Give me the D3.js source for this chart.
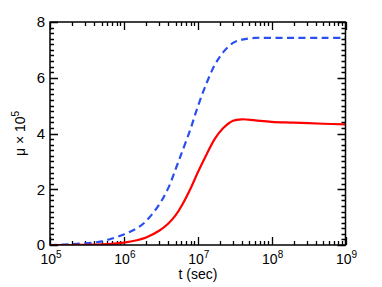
<!DOCTYPE html>
<html>
<head>
<meta charset="utf-8">
<script src="https://cdn.jsdelivr.net/npm/d3@7"></script>
<style>
  body { margin: 0; background: #fff; }
  text { font-family: "Liberation Sans", Arial, sans-serif; fill: #000; }
</style>
</head>
<body>
<div id="chart"></div>
<script>
// time in seconds (log axis)
const tSec = [1e5, 2e5, 5e5, 1e6, 1.5e6, 2e6, 3e6, 4e6, 5e6, 6e6, 8e6, 1e7,
              1.3e7, 1.7e7, 2.2e7, 3e7, 4e7, 6e7, 1e8, 2e8, 5e8, 1e9];
// mu x 1e5, solid red curve
const muSolid = [0, 0, 0.02, 0.085, 0.17, 0.27, 0.51, 0.77, 1.06, 1.39, 2.03, 2.6,
                 3.22, 3.81, 4.19, 4.46, 4.51, 4.47, 4.42, 4.39, 4.35, 4.33];
// mu x 1e5, dashed blue curve
const muDashed = [0, 0.03, 0.13, 0.38, 0.6, 0.86, 1.45, 2.05, 2.71, 3.27, 4.17, 4.96,
                  5.77, 6.46, 6.91, 7.25, 7.37, 7.43, 7.43, 7.43, 7.43, 7.43];
const xExponents = [5, 6, 7, 8, 9];
const yTicks = [0, 2, 4, 6, 8];

const width = 382, height = 287;
const x0 = 50, x1 = 345.5, y0 = 245, y1 = 22;

const svg = d3.select("#chart").append("svg")
    .attr("width", width)
    .attr("height", height);

const x = d3.scaleLog().domain([1e5, 1e9]).range([x0, x1]);
const y = d3.scaleLinear().domain([0, 8]).range([y0, y1]);

const majorX = xExponents.map(e => Math.pow(10, e));
const minorX = [];
xExponents.slice(0, -1).forEach(e => {
    for (let k = 2; k < 10; k++) minorX.push(k * Math.pow(10, e));
});
const minorY = d3.range(1, 40).map(i => i * 0.2).filter((v, i) => (i + 1) % 10 != 0);

// ticks, all pointing inward, drawn as one path per set
function tickPath(vals, len, horiz) {
    let p = d3.path();
    vals.forEach(v => {
        if (horiz) {
            const xx = Math.round(x(v)) + 0.5;
            p.moveTo(xx, y0); p.lineTo(xx, y0 - len);
            p.moveTo(xx, y1); p.lineTo(xx, y1 + len);
        } else {
            const yy = Math.round(y(v)) + 0.5;
            p.moveTo(x0, yy); p.lineTo(x0 + len, yy);
            p.moveTo(x1, yy); p.lineTo(x1 - len, yy);
        }
    });
    svg.append("path")
        .attr("d", p.toString())
        .attr("fill", "none")
        .attr("stroke", "#000")
        .attr("stroke-width", 1.3);
}
tickPath(majorX, 8, true);
tickPath(minorX, 4, true);
tickPath(yTicks, 8, false);
tickPath(minorY, 4, false);

// curves
svg.append("clipPath").attr("id", "clip")
    .append("rect").attr("x", x0).attr("y", y1).attr("width", x1 - x0).attr("height", y0 - y1);

const line = vals => d3.line()
    .x((d, i) => x(tSec[i]))
    .y(d => y(d))
    .curve(d3.curveCatmullRom.alpha(0.5))(vals);

svg.append("path")
    .attr("clip-path", "url(#clip)")
    .attr("d", line(muDashed))
    .attr("fill", "none")
    .attr("stroke", "#2a4ff0")
    .attr("stroke-width", 2.2)
    .attr("stroke-dasharray", "7,4.5");

svg.append("path")
    .attr("clip-path", "url(#clip)")
    .attr("d", line(muSolid))
    .attr("fill", "none")
    .attr("stroke", "#ff0000")
    .attr("stroke-width", 2.2);

// frame
svg.append("rect")
    .attr("x", x0).attr("y", y1)
    .attr("width", x1 - x0).attr("height", y0 - y1)
    .attr("fill", "none")
    .attr("stroke", "#000")
    .attr("stroke-width", 1.5);

// tick labels
svg.append("g").selectAll("text")
    .data(yTicks)
    .join("text")
    .attr("x", x0 - 5)
    .attr("y", d => y(d))
    .attr("dy", "0.36em")
    .attr("text-anchor", "end")
    .attr("font-size", 15)
    .text(d => d);

const xl = svg.append("g").selectAll("text")
    .data(xExponents)
    .join("text")
    .attr("x", d => x(Math.pow(10, d)) + 1)
    .attr("y", 264)
    .attr("text-anchor", "middle")
    .attr("font-size", 14);
xl.append("tspan").text("10");
xl.append("tspan").attr("dy", -6).attr("font-size", 10).text(d => d);

// axis titles
svg.append("text")
    .attr("x", 198)
    .attr("y", 279)
    .attr("text-anchor", "middle")
    .attr("font-size", 14)
    .text("t (sec)");

const yt = svg.append("text")
    .attr("transform", `translate(25,${(y0 + y1) / 2}) rotate(-90)`)
    .attr("text-anchor", "middle")
    .attr("font-size", 14);
yt.append("tspan").text("\u03bc \u00d7 10");
yt.append("tspan").attr("dy", -6).attr("font-size", 10).text("5");
</script>
</body>
</html>
